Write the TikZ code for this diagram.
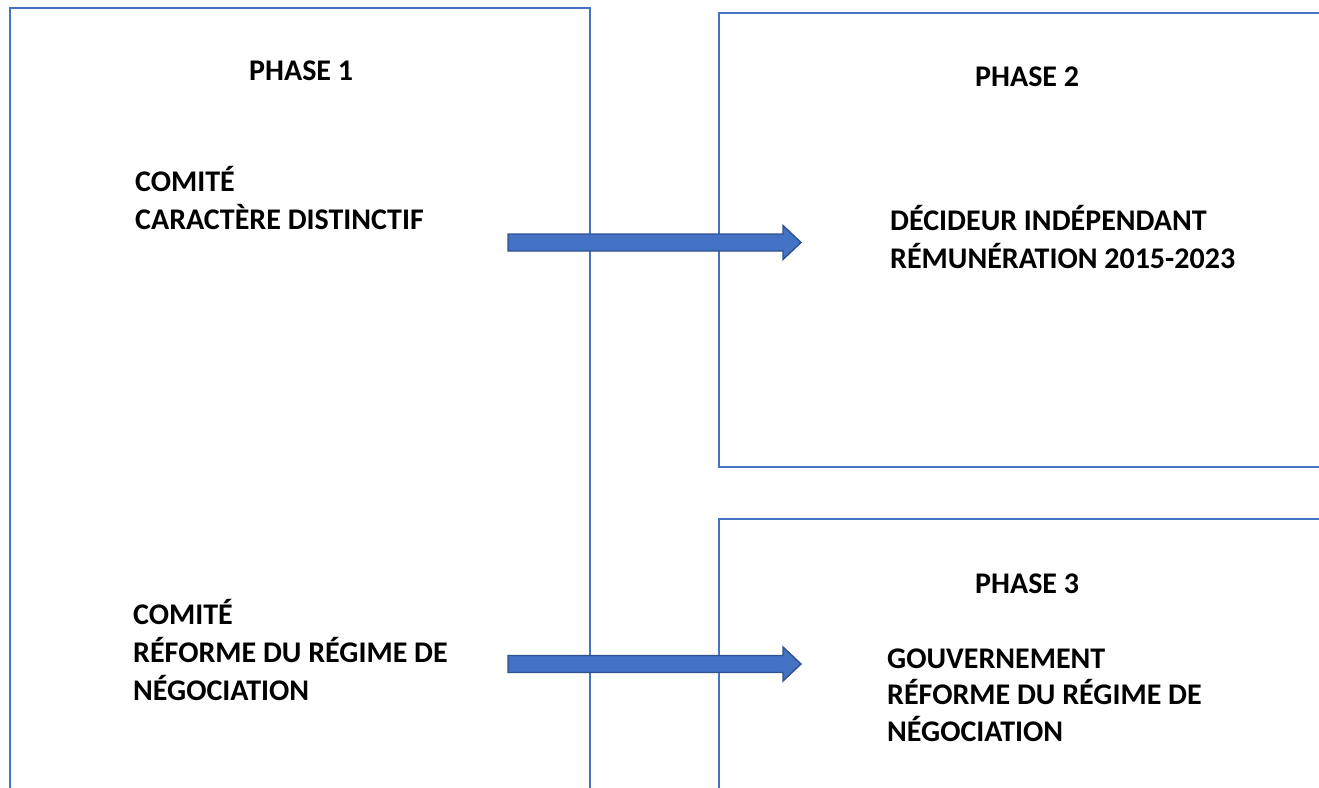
\documentclass[tikz,border=0pt]{standalone}
\usepackage{fontspec}
\setmainfont{Carlito}
\usetikzlibrary{calc}
\definecolor{boxblue}{HTML}{4472C4}
\definecolor{arrowedge}{HTML}{2F528F}
\begin{document}
\begin{tikzpicture}[x=1pt,y=-1pt,
  frame/.style={draw=boxblue,line width=1.4pt},
  lbl/.style={anchor=base west,inner sep=0pt,font=\fontsize{30}{38}\selectfont\bfseries,align=left},
  blockarrow/.style={fill=boxblue,draw=arrowedge,line width=1.4pt,line join=miter}]
\useasboundingbox (0,0) rectangle (1319,787);
\begin{scope}
\clip (0,0) rectangle (1319,787);
% boxes
\draw[frame] (10,800) -- (10,8) -- (590,8) -- (590,800);
\draw[frame] (1330,13) -- (719,13) -- (719,467) -- (1330,467);
\draw[frame] (1330,519) -- (719,519) -- (719,800);
\end{scope}
% texts (multi-line nodes: base = baseline of last line)
\node[lbl] (p1) at (249,80) {PHASE 1};
\node[lbl] (p2) at (975,86) {PHASE 2};
\node[lbl] (p3) at (975,593) {PHASE 3};
\node[lbl] (c1) at (135,229) {COMITÉ\\CARACTÈRE DISTINCTIF};
\node[lbl] (d1) at (890,268) {DÉCIDEUR INDÉPENDANT\\RÉMUNÉRATION 2015-2023};
\node[lbl] (c2) at (133,700) {COMITÉ\\RÉFORME DU RÉGIME DE\\NÉGOCIATION};
\node[lbl,font=\fontsize{30}{36.5}\selectfont\bfseries] (g1) at (887,741) {GOUVERNEMENT\\RÉFORME DU RÉGIME DE\\NÉGOCIATION};
% arrows
\coordinate (a1s) at (508,242.5);
\coordinate (a1e) at (801,242.5);
\coordinate (a2s) at (508,664);
\coordinate (a2e) at (801,664);
\foreach \s/\e in {a1s/a1e,a2s/a2e}{
  \draw[blockarrow] ($(\s)+(0,-8.5)$) -- ($(\e)+(-18,-8.5)$) -- ($(\e)+(-18,-17)$) -- (\e)
    -- ($(\e)+(-18,17)$) -- ($(\e)+(-18,8.5)$) -- ($(\s)+(0,8.5)$) -- cycle;
}
\end{tikzpicture}
\end{document}
